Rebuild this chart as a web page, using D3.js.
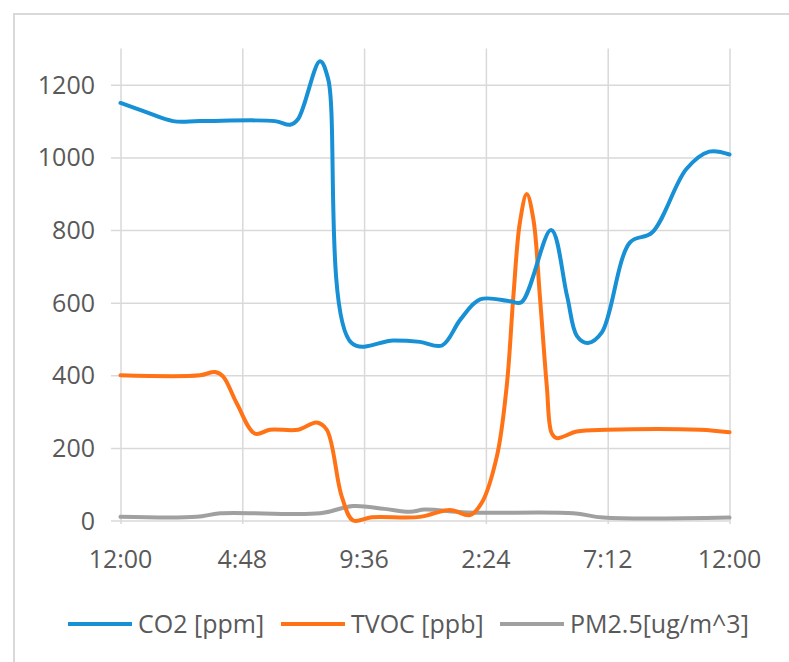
<!DOCTYPE html>
<html>
<head>
<meta charset="utf-8">
<script src="https://cdn.jsdelivr.net/npm/d3@7"></script>
<style>
  html, body { margin: 0; padding: 0; background: #fff; overflow: hidden; }
  svg { display: block; }
  text { font-family: "Open Sans", sans-serif; fill: #595959; }
</style>
</head>
<body>
<svg id="chart" width="789" height="662"></svg>
<script>
// ---- data (x in hours from the first 12:00) ----
const xTickHours = [0, 4.8, 9.6, 14.4, 19.2, 24];
const xTickLabels = ["12:00", "4:48", "9:36", "2:24", "7:12", "12:00"];
const yTicks = [0, 200, 400, 600, 800, 1000, 1200];

const seriesNames = ["CO2 [ppm]", "TVOC [ppb]", "PM2.5[ug/m^3]"];
const seriesColors = ["#1790d5", "#ff7316", "#a0a0a0"];

const co2Hours  = [0, 1.04, 2.07, 3.13, 6.09, 6.68, 7.0, 7.86, 8.18, 9.12, 10.74, 11.8, 12.67, 13.4, 14.17, 15.35, 15.8, 16.97, 17.6, 17.99, 18.42, 18.97, 20.08, 20.95, 22.3, 23.2, 24];
const co2Values = [1150, 1124, 1100, 1100, 1100, 1090, 1106, 1265, 1217, 488, 496, 492, 482, 554, 609, 604, 601, 800, 618, 508, 489, 518, 766, 793, 968, 1016, 1008];

const tvocHours  = [0, 3.13, 3.72, 4.04, 4.58, 5.3, 5.89, 7.0, 7.73, 8.13, 8.72, 9.17, 9.9, 11.8, 12.98, 13.77, 14.23, 14.83, 15.22, 15.48, 15.74, 16.01, 16.27, 16.53, 16.8, 16.99, 17.19, 17.98, 19.16, 22.84, 24];
const tvocValues = [400, 400, 409, 397, 323, 239, 250, 250, 270, 250, 66, 0, 9, 10, 29, 15, 48, 176, 370, 615, 821, 899, 830, 615, 370, 241, 227, 245, 250, 250, 243];

const pmHours  = [0, 3.0, 3.93, 7.86, 9.17, 10.4, 11.41, 12.0, 13.64, 17.85, 19.03, 24];
const pmValues = [10, 10, 20, 20, 40, 32, 24, 30, 22, 20, 8, 8];

// ---- layout ----
const svg = d3.select("#chart");
const x = d3.scaleLinear().domain([0, 24]).range([120.5, 729.5]);
const y = d3.scaleLinear().domain([0, 1300]).range([520.5, 48.5]);

// outer chart border (only top and left edges are inside the picture)
svg.append("path").attr("d", "M14,662V14H789")
  .attr("fill", "none").attr("stroke", "#d9d9d9").attr("stroke-width", 2);

// horizontal gridlines + y tick marks
svg.append("g").attr("transform", "translate(729.5,0)")
  .call(d3.axisLeft(y).tickValues(yTicks).tickSize(729.5 - 111).tickFormat(""))
  .call(g => g.select(".domain").remove())
  .call(g => g.selectAll("line").attr("stroke", "#d9d9d9").attr("stroke-width", 1.5));

// vertical gridlines
svg.append("g").attr("transform", "translate(0,524)")
  .call(d3.axisBottom(x).tickValues(xTickHours).tickSize(-(524 - 48.5)).tickFormat(""))
  .call(g => g.select(".domain").remove())
  .call(g => g.selectAll("line").attr("stroke", "#d9d9d9").attr("stroke-width", 1.5));

// y labels
svg.append("g").selectAll("text").data(yTicks).join("text")
  .attr("x", 95).attr("y", d => y(d) + 9)
  .attr("text-anchor", "end").attr("font-size", 25)
  .text(d => d);

// x labels
svg.append("g").selectAll("text").data(xTickHours).join("text")
  .attr("x", d => x(d)).attr("y", 568)
  .attr("text-anchor", "middle").attr("font-size", 25)
  .text((d, i) => xTickLabels[i]);

// lines
const line = d3.line().x(d => x(d[0])).y(d => y(d[1])).curve(d3.curveCatmullRom.alpha(0.5));
const series = [
  d3.zip(pmHours, pmValues),
  d3.zip(tvocHours, tvocValues),
  d3.zip(co2Hours, co2Values)
];
const seriesColorOrder = [seriesColors[2], seriesColors[1], seriesColors[0]];
svg.append("g").selectAll("path").data(series).join("path")
  .attr("d", line)
  .attr("fill", "none")
  .attr("stroke", (d, i) => seriesColorOrder[i])
  .attr("stroke-width", 4)
  .attr("stroke-linejoin", "round")
  .attr("stroke-linecap", "round");

// legend
const legendX = [68, 281, 500];
const leg = svg.append("g").selectAll("g").data(seriesNames).join("g")
  .attr("transform", (d, i) => `translate(${legendX[i]},624)`);
leg.append("line").attr("x1", 0).attr("x2", 64).attr("y1", 0).attr("y2", 0)
  .attr("stroke", (d, i) => seriesColors[i]).attr("stroke-width", 4);
leg.append("text").attr("x", 70).attr("y", 9).attr("font-size", 25).text(d => d);
</script>
</body>
</html>
